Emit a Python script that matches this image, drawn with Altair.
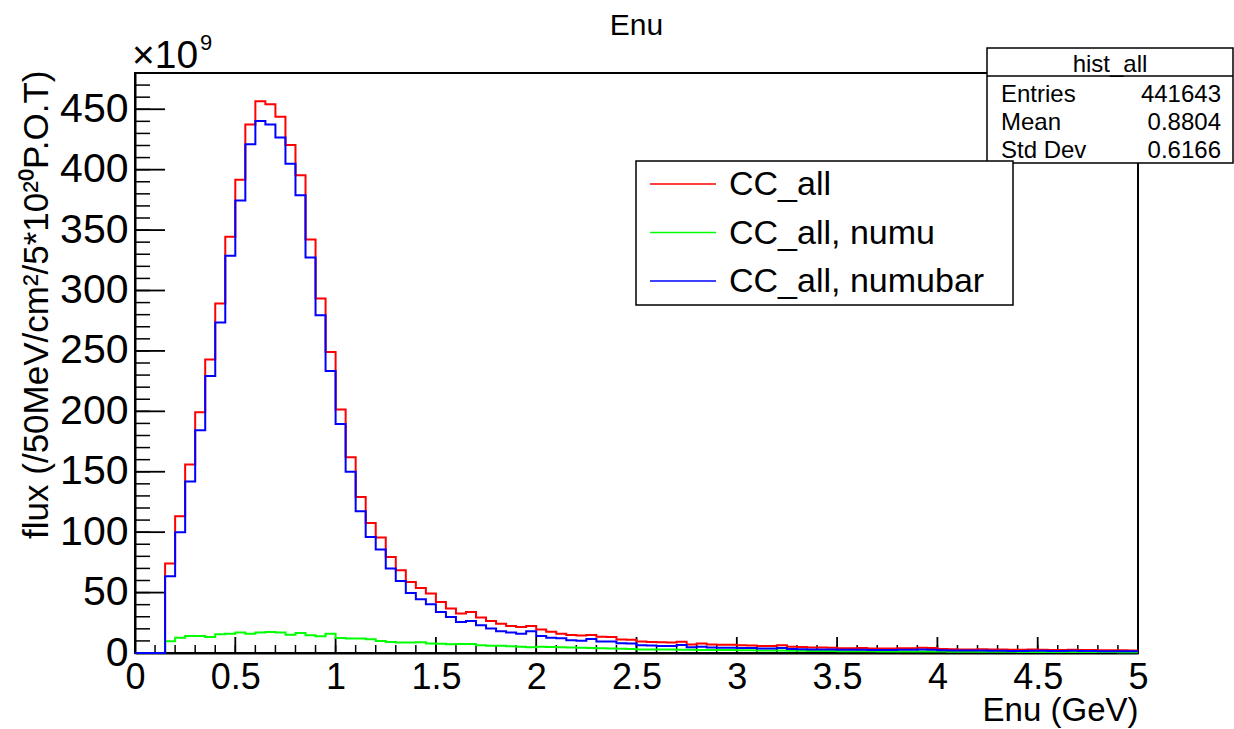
import altair as alt
import pandas as pd

# ---------------- data ----------------
bin_edges = [round(i * 0.05, 2) for i in range(101)]  # 0 .. 5 GeV, 50 MeV bins

cc_all = [0, 0, 0, 74.0, 113.2, 156.0, 199.3, 242.9, 289.2, 344.4,
          391.6, 437.4, 456.7, 454.2, 443.7, 420.5, 395.4, 342.2, 293.4, 249.2,
          201.5, 162.0, 129.1, 107.6, 95.5, 79.5, 68.5, 58.8, 53.8, 49.2,
          42.2, 36.8, 32.6, 33.9, 29.3, 26.5, 24.3, 22.4, 21.5, 22.4,
          19.5, 17.5, 16.0, 14.8, 14.5, 15.0, 13.4, 13.2, 11.2, 11.0,
          9.5, 9.2, 9.0, 8.6, 9.4, 7.0, 7.8, 7.0, 6.9, 6.8,
          6.5, 6.2, 5.8, 5.8, 6.4, 5.2, 5.0, 4.6, 4.6, 4.3,
          4.0, 4.0, 4.2, 3.8, 3.8, 3.7, 3.9, 3.9, 4.3, 4.1,
          3.3, 3.2, 3.0, 3.0, 3.1, 2.9, 2.8, 2.6, 2.6, 2.8,
          2.7, 2.5, 2.5, 2.7, 2.4, 2.4, 2.3, 2.3, 2.2, 2.0]

cc_numu = [0, 0, 0, 9.7, 12.7, 14.1, 14.1, 13.2, 15.5, 16.0,
           16.9, 16.0, 16.9, 17.4, 16.9, 15.2, 16.6, 14.7, 13.8, 16.0,
           12.4, 12.0, 12.0, 11.4, 10.0, 9.2, 8.7, 8.7, 8.9, 7.8,
           7.6, 7.2, 7.4, 7.4, 6.4, 6.0, 5.9, 5.6, 5.2, 4.7,
           5.2, 5.0, 4.8, 4.6, 4.4, 4.2, 4.0, 3.8, 3.5, 3.4,
           3.0, 2.9, 2.9, 2.8, 2.7, 2.6, 2.5, 2.5, 2.4, 2.4,
           2.3, 2.2, 2.1, 2.0, 2.0, 1.9, 1.8, 1.7, 1.7, 1.6,
           1.5, 1.5, 1.4, 1.4, 1.3, 1.3, 1.3, 1.3, 1.3, 1.2,
           1.2, 1.1, 1.1, 1.1, 1.1, 1.0, 1.0, 1.0, 0.9, 0.9,
           0.9, 0.9, 0.8, 0.9, 0.8, 0.8, 0.8, 0.8, 0.7, 0.7]

cc_numubar = [0, 0, 0, 63.5, 99.9, 141.9, 184.4, 229.3, 273.5, 328.7,
              374.5, 421.1, 440.2, 437.4, 426.6, 404.8, 378.9, 327.3, 279.5, 233.4,
              189.5, 149.9, 117.3, 96.0, 85.6, 69.9, 59.6, 49.7, 44.5, 40.3,
              33.9, 29.8, 25.7, 26.5, 22.9, 20.2, 18.0, 16.9, 16.0, 18.0,
              14.0, 12.7, 12.2, 10.6, 10.2, 11.5, 9.6, 9.6, 8.0, 7.8,
              6.4, 6.2, 5.8, 5.8, 6.6, 4.8, 5.2, 4.5, 4.4, 4.3,
              4.2, 4.1, 3.8, 3.8, 4.2, 3.4, 3.2, 3.0, 2.9, 2.8,
              2.7, 2.6, 2.7, 2.5, 2.5, 2.5, 2.6, 2.6, 2.8, 2.7,
              2.2, 2.1, 2.0, 2.0, 2.0, 1.9, 1.8, 1.7, 1.7, 1.8,
              1.8, 1.6, 1.6, 1.8, 1.6, 1.6, 1.5, 1.5, 1.5, 1.4]

series_names = ["CC_all", "CC_all, numu", "CC_all, numubar"]
series_colors = ["#ff0000", "#00ff00", "#0000ff"]
series_values = [cc_all, cc_numu, cc_numubar]

x_major = [i * 0.5 for i in range(11)]
x_minor = [round(i * 0.1, 1) for i in range(51)]
y_major = [i * 50 for i in range(10)]
y_minor = [i * 10 for i in range(48)]

chart_title = "Enu"
stats_title = "hist_all"
stats_labels = ["Entries", "Mean", "Std Dev"]
stats_values = ["441643", "0.8804", "0.6166"]

# ---------------- build ----------------
FONT = "Liberation Sans"
W, H = 1003, 580
XMAX, YMAX = 5, 480

rows = []
for name, vals in zip(series_names, series_values):
    for i, v in enumerate(vals):
        rows.append({"x": bin_edges[i], "y": v, "s": name})
    rows.append({"x": bin_edges[-1], "y": vals[-1], "s": name})
hist = pd.DataFrame(rows)

xs = alt.Scale(domain=[0, XMAX], nice=False, zero=False)
ys = alt.Scale(domain=[0, YMAX], nice=False, zero=False)

x_axis = alt.Axis(values=x_major, format="~g", ticks=False, grid=False,
                  domainColor="black", domainWidth=2,
                  labelFont=FONT, labelFontSize=36, labelColor="black",
                  labelPadding=7, labelFlush=False, labelOverlap=False, labelBound=False,
                  title="Enu (GeV)", titleFont=FONT, titleFontSize=33,
                  titleFontWeight="normal", titleColor="black",
                  titleAnchor="end", titleAlign="right", titleBaseline="alphabetic",
                  titleX=W, titleY=67)
y_axis = alt.Axis(values=y_major, format="d", ticks=False, grid=False,
                  domainColor="black", domainWidth=2,
                  labelFont=FONT, labelFontSize=41, labelColor="black",
                  labelPadding=7, labelFlush=False, labelOverlap=False, labelBound=False,
                  title="flux (/50MeV/cm²/5*10²⁰P.O.T)", titleFont=FONT, titleFontSize=35,
                  titleFontWeight="normal", titleColor="black",
                  titleAngle=270, titleAlign="right", titleBaseline="alphabetic",
                  titleX=-88, titleY=-3)

dummy = pd.DataFrame({"a": [0]})

frame = alt.Chart(dummy).mark_rect(filled=False, stroke="black", strokeWidth=2).encode(
    x=alt.value(0), x2=alt.value(W), y=alt.value(0), y2=alt.value(H))

layers = [frame]

# tick marks drawn inside the frame (ROOT style)
layers.append(alt.Chart(pd.DataFrame({"v": x_minor})).mark_rule(color="black", strokeWidth=1.5).encode(
    x=alt.X("v:Q", scale=xs, axis=x_axis), y=alt.value(H), y2=alt.value(H - 8)))
layers.append(alt.Chart(pd.DataFrame({"v": x_major})).mark_rule(color="black", strokeWidth=1.8).encode(
    x=alt.X("v:Q", scale=xs, axis=x_axis), y=alt.value(H), y2=alt.value(H - 16)))
layers.append(alt.Chart(pd.DataFrame({"v": y_minor})).mark_rule(color="black", strokeWidth=1.5).encode(
    y=alt.Y("v:Q", scale=ys, axis=y_axis), x=alt.value(0), x2=alt.value(15)))
layers.append(alt.Chart(pd.DataFrame({"v": y_major})).mark_rule(color="black", strokeWidth=1.8).encode(
    y=alt.Y("v:Q", scale=ys, axis=y_axis), x=alt.value(0), x2=alt.value(30)))

for name, col in zip(series_names, series_colors):
    layers.append(
        alt.Chart(hist).transform_filter(alt.datum.s == name)
        .mark_line(interpolate="step-after", color=col, strokeWidth=2)
        .encode(x=alt.X("x:Q", scale=xs, axis=x_axis),
                y=alt.Y("y:Q", scale=ys, axis=y_axis))
    )

# chart title (centred above the frame)
layers.append(alt.Chart(dummy).mark_text(font=FONT, fontSize=30, align="center", baseline="alphabetic",
                                         color="black", text=chart_title).encode(
    x=alt.value(W / 2), y=alt.value(-38)))

# x10^9 exponent label
layers.append(alt.Chart(dummy).mark_text(font=FONT, fontSize=39, align="left", baseline="alphabetic",
                                         color="black", text="×10").encode(
    x=alt.value(-3), y=alt.value(-5)))
layers.append(alt.Chart(dummy).mark_text(font=FONT, fontSize=22, align="left", baseline="alphabetic",
                                         color="black", text="9").encode(
    x=alt.value(65), y=alt.value(-23)))

# statistics box
SX0, SX1, SY0, SY1 = 852, 1098, -25, 90
layers.append(alt.Chart(dummy).mark_rect(fill="white", stroke="black", strokeWidth=1.5).encode(
    x=alt.value(SX0), x2=alt.value(SX1), y=alt.value(SY0), y2=alt.value(SY1)))
layers.append(alt.Chart(dummy).mark_rule(color="black", strokeWidth=1.5).encode(
    x=alt.value(SX0), x2=alt.value(SX1), y=alt.value(3)))
layers.append(alt.Chart(dummy).mark_text(font=FONT, fontSize=24, align="center", baseline="alphabetic",
                                         color="black", text=stats_title).encode(
    x=alt.value((SX0 + SX1) / 2), y=alt.value(-1)))
for i, (lab, val) in enumerate(zip(stats_labels, stats_values)):
    yy = 28.7 + i * 28.3
    layers.append(alt.Chart(dummy).mark_text(font=FONT, fontSize=24, align="left", baseline="alphabetic",
                                             color="black", text=lab).encode(
        x=alt.value(866), y=alt.value(yy)))
    layers.append(alt.Chart(dummy).mark_text(font=FONT, fontSize=24, align="right", baseline="alphabetic",
                                             color="black", text=val).encode(
        x=alt.value(1086), y=alt.value(yy)))

# legend box
LX0, LX1, LY0, LY1 = 501, 878, 88, 232
layers.append(alt.Chart(dummy).mark_rect(fill="white", stroke="black", strokeWidth=1.5).encode(
    x=alt.value(LX0), x2=alt.value(LX1), y=alt.value(LY0), y2=alt.value(LY1)))
for i, (name, col) in enumerate(zip(series_names, series_colors)):
    ly = 111 + i * 48.5
    layers.append(alt.Chart(dummy).mark_rule(color=col, strokeWidth=1.6).encode(
        x=alt.value(515), x2=alt.value(581), y=alt.value(ly)))
    layers.append(alt.Chart(dummy).mark_text(font=FONT, fontSize=34, align="left", baseline="alphabetic",
                                             color="black", text=name).encode(
        x=alt.value(594), y=alt.value(ly + 11)))

chart = alt.layer(*layers).properties(
    width=W, height=H,
    autosize=alt.AutoSizeParams(type="none"),
    padding={"left": 135, "top": 73, "right": 96, "bottom": 76},
    background="white",
).configure_view(strokeWidth=0)

chart.save("out.html", embed_options={"renderer": "svg", "actions": False})
